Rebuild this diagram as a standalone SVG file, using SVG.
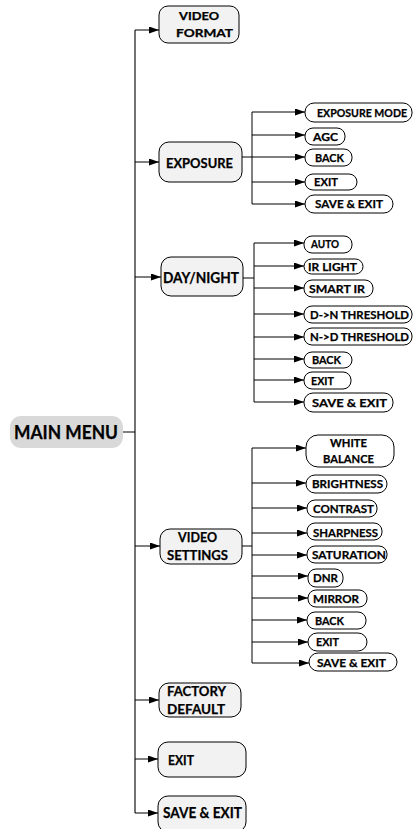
<svg xmlns="http://www.w3.org/2000/svg" width="413" height="829" viewBox="0 0 413 829">
<defs>
<marker id="ah" markerUnits="userSpaceOnUse" markerWidth="10" markerHeight="7" refX="10" refY="3.5" orient="auto">
<path d="M0,0 L10,3.5 L0,7 z" fill="#000"/>
</marker>
<style>
.main{fill:#f2f2f2;stroke:#000;stroke-width:1}
.sub{fill:#fff;stroke:#000;stroke-width:1}
.root{fill:#d9d9d9;stroke:none}
text{font-family:Lato,"Open Sans","Liberation Sans",sans-serif;font-weight:bold;fill:#000;stroke:#000;stroke-width:0.25}
.t11{font-size:11.5px}
.c{fill:none;stroke:#000;stroke-width:1}
.a{fill:none;stroke:#000;stroke-width:1;marker-end:url(#ah)}
.trunk{fill:none;stroke:#444;stroke-width:1.5}
</style>
</defs>
<rect width="413" height="829" fill="#fff"/>
<g id="connectors">
<path class="trunk" d="M135,30 V813"/>
<path class="c" d="M123,432 H135"/>
<path class="a" d="M135,30 H159"/>
<path class="a" d="M135,162 H159"/>
<path class="a" d="M135,277 H161"/>
<path class="a" d="M135,546 H160"/>
<path class="a" d="M135,700 H159"/>
<path class="a" d="M135,759 H158"/>
<path class="a" d="M135,813 H158"/>
<path class="c" d="M242,157 H252 M252,112 V204"/>
<path class="a" d="M252,112 H305"/>
<path class="a" d="M252,135 H305"/>
<path class="a" d="M252,157 H305"/>
<path class="a" d="M252,182 H305"/>
<path class="a" d="M252,204 H305"/>
<path class="c" d="M243,278 H254 M254,243 V402"/>
<path class="a" d="M254,243 H304"/>
<path class="a" d="M254,266 H304"/>
<path class="a" d="M254,288 H304"/>
<path class="a" d="M254,314 H304"/>
<path class="a" d="M254,337 H304"/>
<path class="a" d="M254,359 H304"/>
<path class="a" d="M254,380 H304"/>
<path class="a" d="M254,402 H304"/>
<path class="c" d="M242,546 H252 M252,448 V663"/>
<path class="a" d="M252,448 H306"/>
<path class="a" d="M252,483 H306"/>
<path class="a" d="M252,508 H307"/>
<path class="a" d="M252,533 H307"/>
<path class="a" d="M252,555 H307"/>
<path class="a" d="M252,576 H308"/>
<path class="a" d="M252,598 H308"/>
<path class="a" d="M252,620 H307"/>
<path class="a" d="M252,642 H308"/>
<path class="a" d="M252,663 H309"/>
</g>
<g id="main-menu">
<rect class="root" x="10" y="416" width="113" height="32" rx="11"/>
<text x="14" y="439" style="font-size:18px" textLength="104" lengthAdjust="spacingAndGlyphs">MAIN MENU</text>
</g>
<g id="video-format">
<rect class="main" x="159" y="6" width="80" height="37" rx="9"/>
<text x="179" y="20" style="font-size:10.5px" textLength="40" lengthAdjust="spacingAndGlyphs">VIDEO</text>
<text x="176" y="36.5" style="font-size:10.5px" textLength="57" lengthAdjust="spacingAndGlyphs">FORMAT</text>
</g>
<g id="exposure">
<rect class="main" x="159" y="142" width="83" height="40" rx="10"/>
<text x="166" y="167.5" style="font-size:13px" textLength="67" lengthAdjust="spacingAndGlyphs">EXPOSURE</text>
</g>
<g id="exposure-mode"><rect class="sub" x="305" y="103" width="107" height="19" rx="9"/><text x="317" y="116.5" style="font-size:10.5px" textLength="90" lengthAdjust="spacingAndGlyphs">EXPOSURE MODE</text></g>
<g id="exp-agc"><rect class="sub" x="305" y="128" width="40" height="17" rx="8"/><text class="t11" x="313" y="140.5" textLength="25" lengthAdjust="spacingAndGlyphs">AGC</text></g>
<g id="exp-back"><rect class="sub" x="305" y="149" width="47" height="17" rx="8"/><text class="t11" x="315" y="161.5" textLength="29" lengthAdjust="spacingAndGlyphs">BACK</text></g>
<g id="exp-exit"><rect class="sub" x="305" y="174" width="52" height="16" rx="8"/><text class="t11" x="314" y="186" textLength="24" lengthAdjust="spacingAndGlyphs">EXIT</text></g>
<g id="exp-save-exit"><rect class="sub" x="305" y="195" width="88" height="18" rx="9"/><text class="t11" x="315" y="208" textLength="68" lengthAdjust="spacingAndGlyphs">SAVE &amp; EXIT</text></g>
<g id="day-night">
<rect class="main" x="161" y="257" width="82" height="39" rx="10"/>
<text x="163" y="282.5" style="font-size:14.5px" textLength="76" lengthAdjust="spacingAndGlyphs">DAY/NIGHT</text>
</g>
<g id="dn-auto"><rect class="sub" x="304" y="236" width="48" height="17" rx="8"/><text class="t11" x="311" y="248" textLength="28" lengthAdjust="spacingAndGlyphs">AUTO</text></g>
<g id="dn-ir-light"><rect class="sub" x="304" y="259" width="59" height="15" rx="7.5"/><text class="t11" x="308" y="270.5" textLength="49" lengthAdjust="spacingAndGlyphs">IR LIGHT</text></g>
<g id="dn-smart-ir"><rect class="sub" x="304" y="280" width="69" height="17" rx="8"/><text class="t11" x="309" y="292.5" textLength="56" lengthAdjust="spacingAndGlyphs">SMART IR</text></g>
<g id="dn-dn-threshold"><rect class="sub" x="304" y="306" width="108" height="17" rx="8"/><text x="310" y="318.5" style="font-size:11px" textLength="99" lengthAdjust="spacingAndGlyphs">D-&gt;N THRESHOLD</text></g>
<g id="dn-nd-threshold"><rect class="sub" x="304" y="328" width="108" height="17" rx="8"/><text x="310" y="341" style="font-size:11px" textLength="99" lengthAdjust="spacingAndGlyphs">N-&gt;D THRESHOLD</text></g>
<g id="dn-back"><rect class="sub" x="304" y="352" width="48" height="16" rx="8"/><text class="t11" x="312" y="364" textLength="29" lengthAdjust="spacingAndGlyphs">BACK</text></g>
<g id="dn-exit"><rect class="sub" x="304" y="372" width="47" height="17" rx="8"/><text class="t11" x="311" y="384.5" textLength="23" lengthAdjust="spacingAndGlyphs">EXIT</text></g>
<g id="dn-save-exit"><rect class="sub" x="304" y="393" width="89" height="19" rx="9"/><text class="t11" x="312" y="406.5" textLength="75" lengthAdjust="spacingAndGlyphs">SAVE &amp; EXIT</text></g>
<g id="video-settings">
<rect class="main" x="160" y="529" width="82" height="35" rx="10"/>
<text x="178" y="541.5" style="font-size:13.5px" textLength="39" lengthAdjust="spacingAndGlyphs">VIDEO</text>
<text x="167" y="560" style="font-size:13.5px" textLength="61" lengthAdjust="spacingAndGlyphs">SETTINGS</text>
</g>
<g id="vs-white-balance"><rect class="sub" x="306" y="435" width="88" height="32" rx="12"/><text class="t11" x="330" y="447" textLength="37" lengthAdjust="spacingAndGlyphs">WHITE</text><text class="t11" x="323" y="463" textLength="51" lengthAdjust="spacingAndGlyphs">BALANCE</text></g>
<g id="vs-brightness"><rect class="sub" x="306" y="475" width="81" height="18" rx="9"/><text class="t11" x="312" y="488" textLength="71" lengthAdjust="spacingAndGlyphs">BRIGHTNESS</text></g>
<g id="vs-contrast"><rect class="sub" x="307" y="500" width="70" height="17" rx="8"/><text class="t11" x="313" y="512.5" textLength="61" lengthAdjust="spacingAndGlyphs">CONTRAST</text></g>
<g id="vs-sharpness"><rect class="sub" x="307" y="523" width="75" height="17" rx="8"/><text class="t11" x="313" y="537" textLength="65" lengthAdjust="spacingAndGlyphs">SHARPNESS</text></g>
<g id="vs-saturation"><rect class="sub" x="307" y="546" width="80" height="17" rx="8"/><text class="t11" x="312" y="559" textLength="74" lengthAdjust="spacingAndGlyphs">SATURATION</text></g>
<g id="vs-dnr"><rect class="sub" x="308" y="569" width="35" height="18" rx="8"/><text class="t11" x="313" y="581.5" textLength="25" lengthAdjust="spacingAndGlyphs">DNR</text></g>
<g id="vs-mirror"><rect class="sub" x="308" y="590" width="59" height="17" rx="8"/><text class="t11" x="313" y="603" textLength="46" lengthAdjust="spacingAndGlyphs">MIRROR</text></g>
<g id="vs-back"><rect class="sub" x="307" y="612" width="59" height="17" rx="8"/><text class="t11" x="315" y="625" textLength="29" lengthAdjust="spacingAndGlyphs">BACK</text></g>
<g id="vs-exit"><rect class="sub" x="308" y="633" width="59" height="18" rx="9"/><text class="t11" x="316" y="646" textLength="23" lengthAdjust="spacingAndGlyphs">EXIT</text></g>
<g id="vs-save-exit"><rect class="sub" x="309" y="653" width="88" height="18" rx="9"/><text class="t11" x="317" y="666.5" textLength="69" lengthAdjust="spacingAndGlyphs">SAVE &amp; EXIT</text></g>
<g id="factory-default">
<rect class="main" x="159" y="683" width="82" height="34" rx="10"/>
<text x="167" y="695.5" style="font-size:13.5px" textLength="59" lengthAdjust="spacingAndGlyphs">FACTORY</text>
<text x="167" y="714" style="font-size:13.5px" textLength="58" lengthAdjust="spacingAndGlyphs">DEFAULT</text>
</g>
<g id="exit">
<rect class="main" x="158" y="742" width="88" height="35" rx="10"/>
<text x="168" y="765" style="font-size:14px" textLength="26" lengthAdjust="spacingAndGlyphs">EXIT</text>
</g>
<g id="save-exit">
<rect class="main" x="158" y="796" width="88" height="36" rx="10"/>
<text x="163" y="818" style="font-size:15.5px" textLength="79" lengthAdjust="spacingAndGlyphs">SAVE &amp; EXIT</text>
</g>
</svg>
